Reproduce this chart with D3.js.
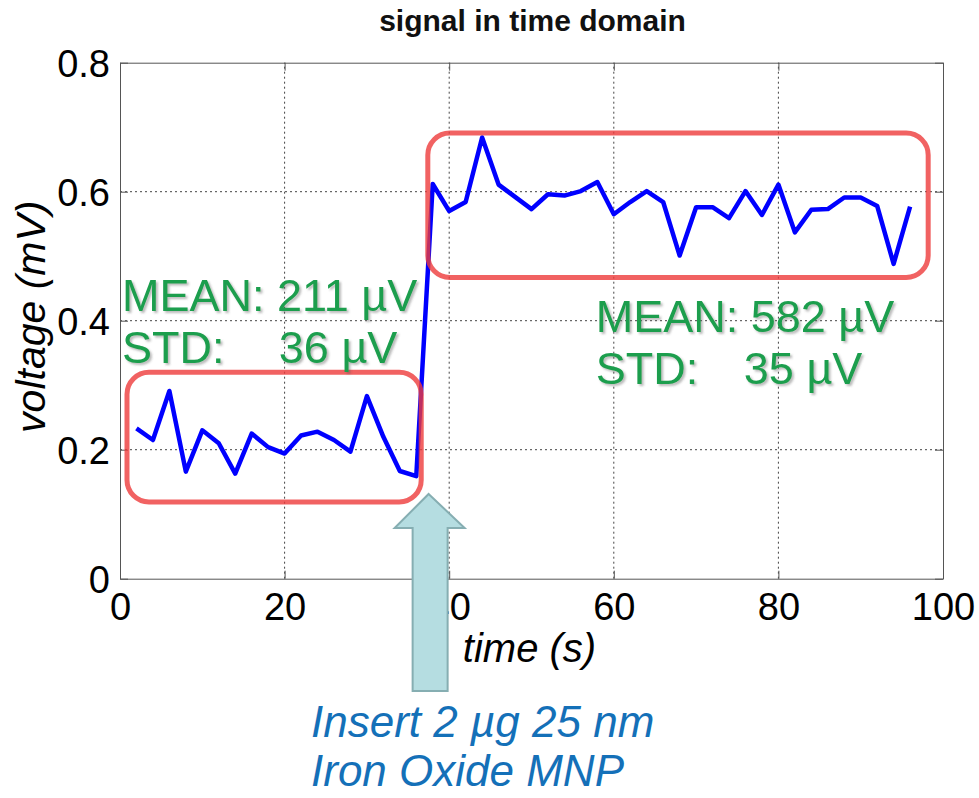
<!DOCTYPE html>
<html>
<head>
<meta charset="utf-8">
<script src="https://cdn.jsdelivr.net/npm/d3@7/dist/d3.min.js"></script>
<style>
  html, body { margin: 0; padding: 0; background: #fff; }
  svg { display: block; font-family: "Liberation Sans", Arial, sans-serif; }
</style>
</head>
<body>
<svg id="chart" width="979" height="798"></svg>
<script>
// Sample times (s) and measured voltage (mV)
const times = [2, 4, 6, 8, 10, 12, 14, 16, 18, 20, 22, 24, 26, 28, 30, 32, 34, 36,
  38, 40, 42, 44, 46, 48, 50, 52, 54, 56, 58, 60, 62, 64, 66, 68, 70, 72, 74, 76,
  78, 80, 82, 84, 86, 88, 90, 92, 94, 96];
const voltage = [0.233, 0.215, 0.291, 0.166, 0.230, 0.210, 0.163, 0.225, 0.204,
  0.194, 0.222, 0.228, 0.215, 0.197, 0.283, 0.220, 0.167, 0.159,
  0.612, 0.570, 0.584, 0.684, 0.611, 0.592, 0.573, 0.596, 0.594, 0.601, 0.615,
  0.565, 0.584, 0.601, 0.584, 0.501, 0.576, 0.576, 0.559, 0.601, 0.564, 0.611,
  0.537, 0.572, 0.573, 0.591, 0.591, 0.578, 0.488, 0.577];
const xTicks = [0, 20, 40, 60, 80, 100];
const yTicks = [0, 0.2, 0.4, 0.6, 0.8];

// Highlighted regions (data space: t0, t1, v0, v1) and their statistics
const regionBefore = [0.85, 36.6, 0.119, 0.320];
const regionAfter = [37.4, 98.2, 0.467, 0.691];
const statsBefore = ["MEAN: 211 µV", "STD:", "36 µV"];
const statsAfter = ["MEAN: 582 µV", "STD:", "35 µV"];
const insertTime = 37.5;
const noteLines = ["Insert 2 µg 25 nm", "Iron Oxide MNP"];

const svg = d3.select("#chart");
const m = { left: 120, top: 62.7, right: 36, bottom: 219.3 };
const W = 979 - m.left - m.right, H = 798 - m.top - m.bottom;

const x = d3.scaleLinear().domain([0, 100]).range([m.left, m.left + W]);
const y = d3.scaleLinear().domain([0, 0.8]).range([m.top + H, m.top]);

const defs = svg.append("defs");
const f = defs.append("filter").attr("id", "shadow")
  .attr("x", "-10%").attr("y", "-20%").attr("width", "130%").attr("height", "150%");
f.append("feDropShadow").attr("dx", 2).attr("dy", 2).attr("stdDeviation", 1.2)
  .attr("flood-color", "#555").attr("flood-opacity", 0.4);

// Title
svg.append("text").attr("x", x(50) + 1).attr("y", 31)
  .attr("text-anchor", "middle").attr("font-weight", "bold").attr("font-size", 30)
  .attr("fill", "#111").text("signal in time domain");

// Dotted grid
const grid = svg.append("g").attr("stroke", "#444").attr("stroke-width", 1)
  .attr("stroke-dasharray", "2,3");
grid.selectAll(".gx").data(xTicks.slice(1, -1)).join("line")
  .attr("x1", d => x(d)).attr("x2", d => x(d)).attr("y1", y(0)).attr("y2", y(0.8));
grid.selectAll(".gy").data(yTicks.slice(1, -1)).join("line")
  .attr("x1", x(0)).attr("x2", x(100)).attr("y1", d => y(d)).attr("y2", d => y(d));

// Axes with inward ticks
const fmtY = d => d === 0 ? "0" : d3.format(".1f")(d);
const axStyle = g => {
  g.selectAll("path.domain").attr("stroke", "#555");
  g.selectAll(".tick line").attr("stroke", "#555");
  g.selectAll(".tick text").attr("fill", "#000").attr("font-size", 38)
    .attr("font-family", "Liberation Sans, Arial, sans-serif");
};
svg.append("g").attr("transform", `translate(0,${y(0)})`)
  .call(d3.axisBottom(x).tickValues(xTicks).tickSizeInner(-8).tickSizeOuter(0).tickPadding(14))
  .call(axStyle);
svg.append("g").attr("transform", `translate(${x(0)},0)`)
  .call(d3.axisLeft(y).tickValues(yTicks).tickFormat(fmtY).tickSizeInner(-8).tickSizeOuter(0).tickPadding(10))
  .call(axStyle)
  .selectAll(".tick text").attr("dy", "0.36em");
svg.append("g").attr("transform", `translate(0,${y(0.8)})`)
  .call(d3.axisTop(x).tickValues(xTicks).tickSizeInner(-8).tickSizeOuter(0).tickFormat(""))
  .call(axStyle);
svg.append("g").attr("transform", `translate(${x(100)},0)`)
  .call(d3.axisRight(y).tickValues(yTicks).tickSizeInner(-8).tickSizeOuter(0).tickFormat(""))
  .call(axStyle);

// Axis labels
svg.append("text").attr("x", x(50) - 2).attr("y", 662)
  .attr("text-anchor", "middle").attr("font-style", "italic").attr("font-size", 40)
  .text("time (s)");
svg.append("text").attr("transform", `translate(45,${y(0.4) - 4}) rotate(-90)`)
  .attr("text-anchor", "middle").attr("font-style", "italic").attr("font-size", 41)
  .text("voltage (mV)");

// Signal
const pts = times.map((t, i) => [t, voltage[i]]);
svg.append("path").datum(pts)
  .attr("fill", "none").attr("stroke", "#0000ff").attr("stroke-width", 4.5)
  .attr("stroke-linejoin", "round")
  .attr("d", d3.line().x(d => x(d[0])).y(d => y(d[1])));

// Highlight boxes
[regionBefore, regionAfter].forEach(r => {
  svg.append("rect")
    .attr("x", x(r[0])).attr("y", y(r[3]))
    .attr("width", x(r[1]) - x(r[0])).attr("height", y(r[2]) - y(r[3]))
    .attr("rx", 22).attr("ry", 22)
    .attr("fill", "none").attr("stroke", "#ee3b3b").attr("stroke-width", 5)
    .attr("stroke-opacity", 0.8);
});

// Statistics labels
function stats(lines, x0, x1, yb) {
  const g = svg.append("g").attr("fill", "#1a9e4e").attr("font-size", 45)
    .attr("filter", "url(#shadow)");
  g.append("text").attr("x", x0).attr("y", yb).text(lines[0]);
  g.append("text").attr("x", x0).attr("y", yb + 52).text(lines[1]);
  g.append("text").attr("x", x1).attr("y", yb + 52).text(lines[2]);
}
stats(statsBefore, x(0) + 2, x(19.3), 311);
stats(statsAfter, x(57.8), x(75.8), 332);

// Insertion arrow
const ax = x(insertTime);
const arrow = [[ax, 494], [ax + 36, 528], [ax + 19, 528], [ax + 19, 691],
  [ax - 16, 691], [ax - 16, 528], [ax - 34, 528]];
svg.append("path").attr("d", d3.line()(arrow) + "Z")
  .attr("fill", "#b5dde1").attr("stroke", "#86aeb2").attr("stroke-width", 2);

// Insertion note
const note = svg.append("g").attr("fill", "#1470b8").attr("font-style", "italic")
  .attr("font-size", 44);
note.append("text").attr("x", 311).attr("y", 737).text(noteLines[0]);
note.append("text").attr("x", 311).attr("y", 786).text(noteLines[1]);
</script>
</body>
</html>
